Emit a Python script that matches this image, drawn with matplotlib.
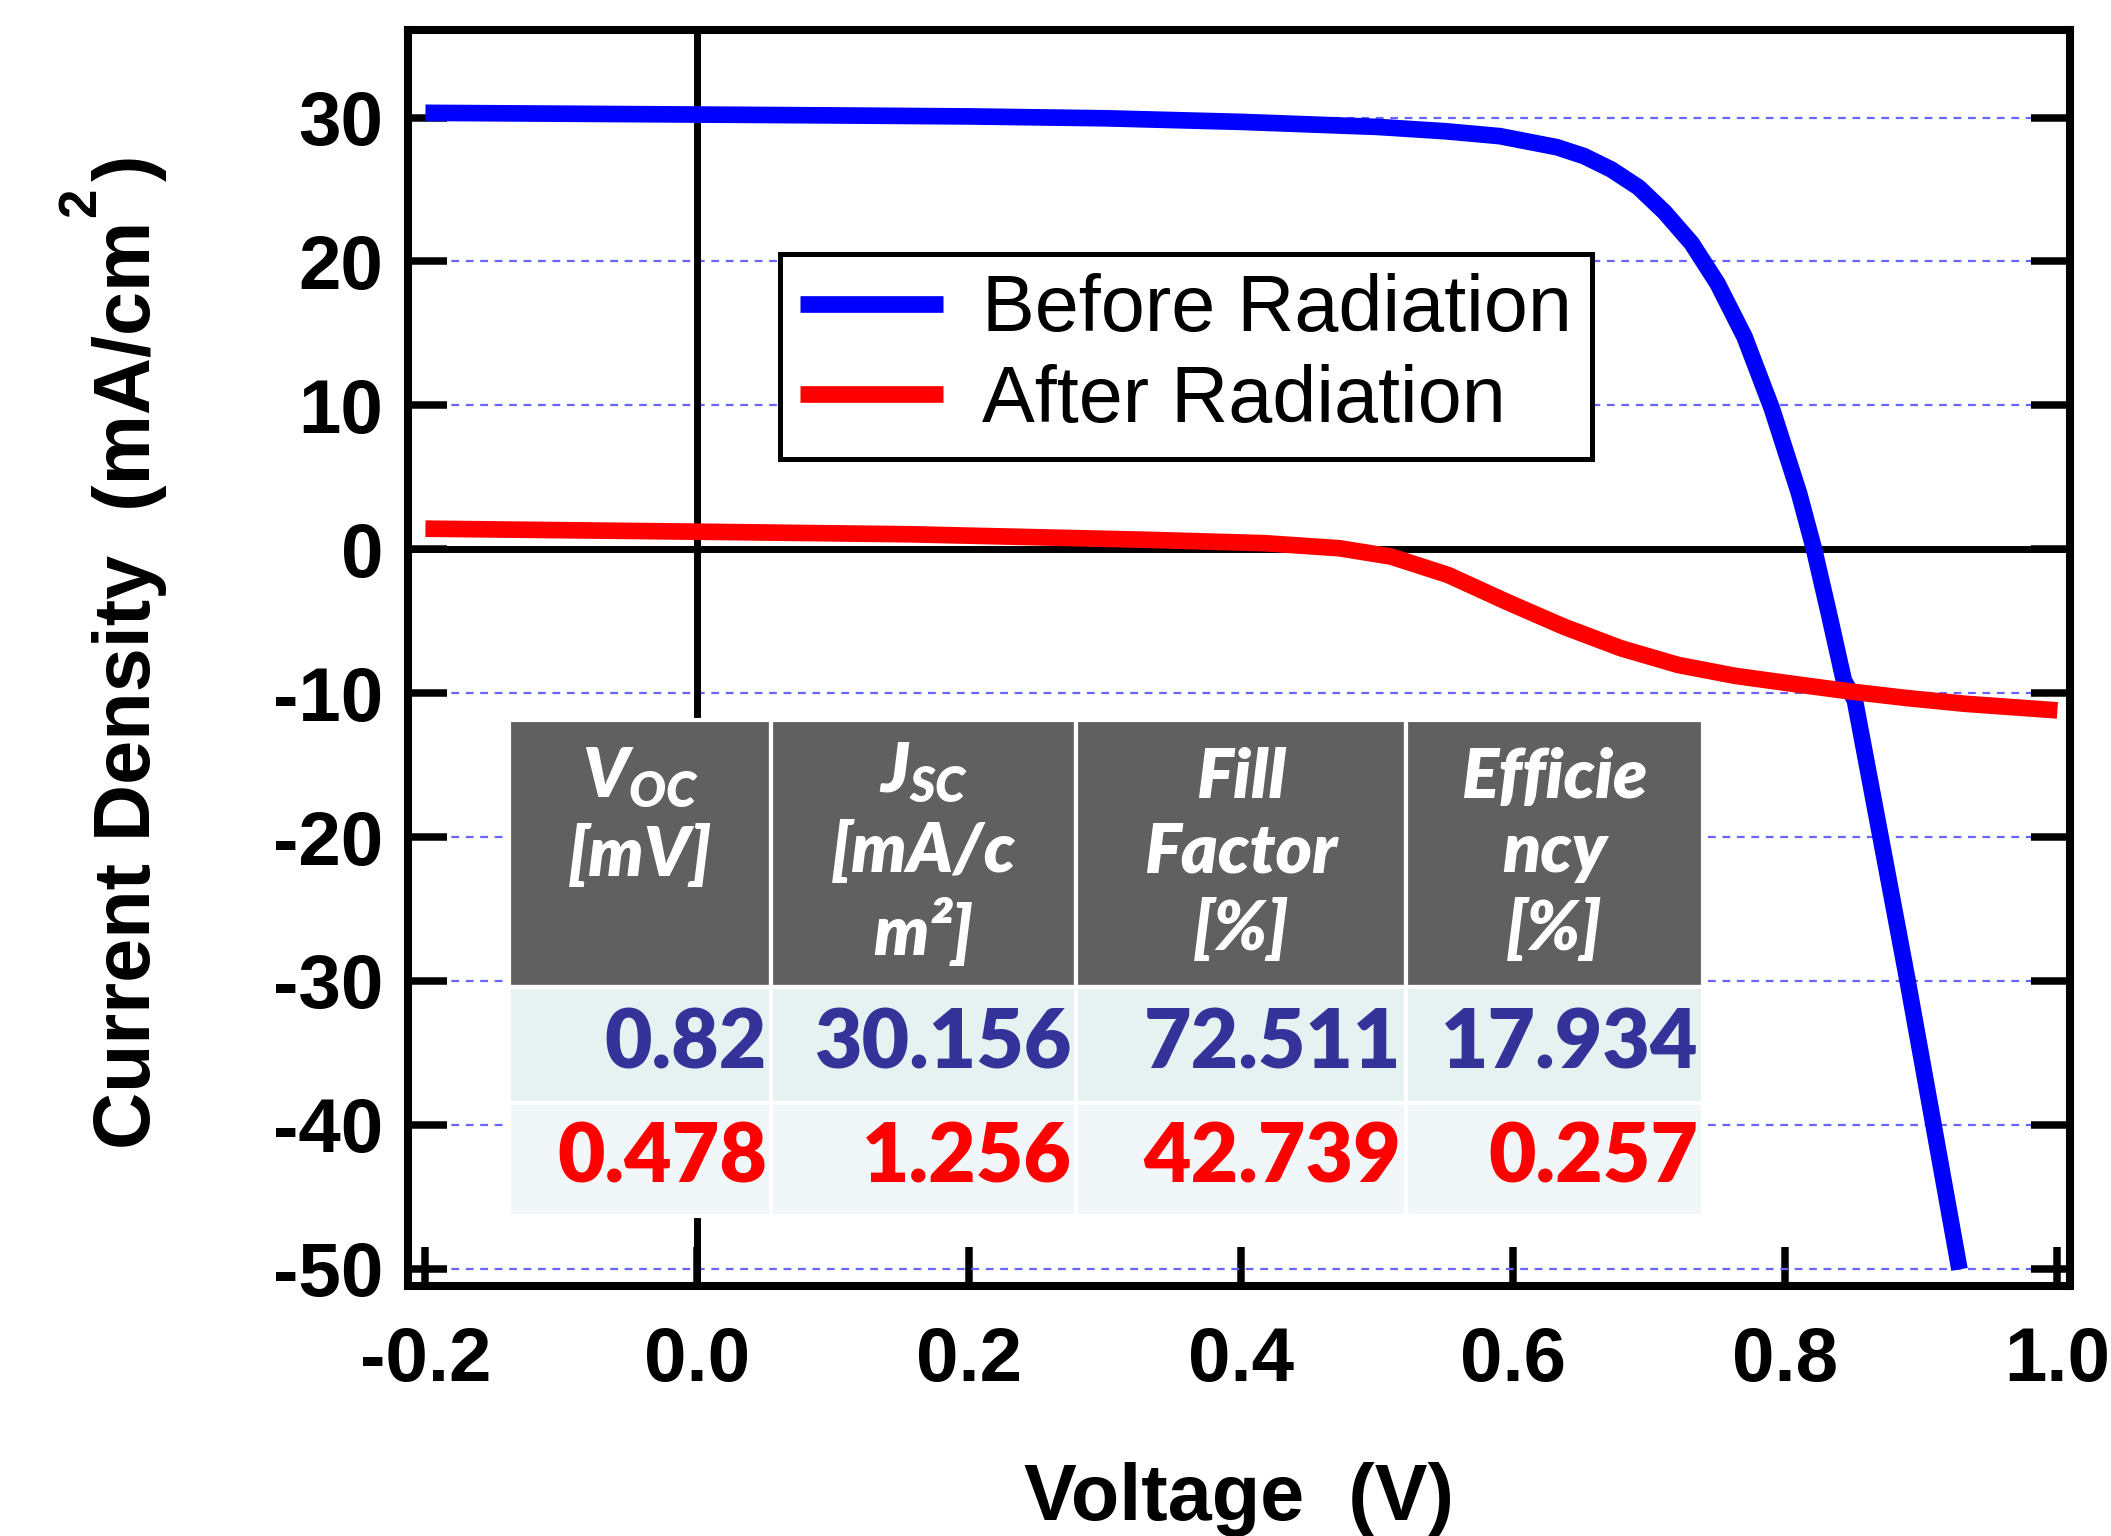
import numpy as np
import matplotlib.pyplot as plt
from matplotlib.font_manager import FontProperties

plt.rcParams['axes.unicode_minus'] = False
plt.rcParams['mathtext.fontset'] = 'custom'
plt.rcParams['mathtext.rm'] = 'Liberation Sans:bold'
plt.rcParams['mathtext.bf'] = 'Liberation Sans:bold'
plt.rcParams['mathtext.it'] = 'Lato:heavy:italic'

# J-V curve, before radiation
v_before = [-0.2, 0.0, 0.1, 0.2, 0.3, 0.4, 0.5, 0.55, 0.59, 0.632, 0.652, 0.672, 0.692,
            0.711, 0.731, 0.750, 0.770, 0.790, 0.810, 0.821, 0.832, 0.843, 0.851, 0.870,
            0.890, 0.909, 0.928]
j_before = [30.33, 30.21, 30.15, 30.08, 29.95, 29.7, 29.35, 29.05, 28.71, 27.94, 27.32, 26.39, 25.15,
            23.44, 21.27, 18.48, 14.75, 9.79, 3.90, 0.02, -4.48, -9.13, -10.47, -20.0,
            -30.07, -40.05, -50.05]

# J-V curve, after radiation
v_after = [-0.2, 0.0, 0.156, 0.333, 0.417, 0.472, 0.510, 0.552, 0.595, 0.637, 0.679, 0.721,
           0.763, 0.806, 0.848, 0.890, 0.932, 1.0]
j_after = [1.43, 1.22, 1.04, 0.65, 0.42, 0.07, -0.51, -1.79, -3.65, -5.38, -6.88, -8.04,
           -8.80, -9.36, -9.89, -10.35, -10.74, -11.2]

# table
col_labels = ['$V_{OC}$\n[mV]\n ', '$J_{SC}$\n[mA/c\nm\u00b2]', 'Fill\nFactor\n[%]', 'Efficie\nncy\n[%]']
before_vals = ['0.82', '30.156', '72.511', '17.934']
after_vals = ['0.478', '1.256', '42.739', '0.257']

x_ticks = [-0.2, 0.0, 0.2, 0.4, 0.6, 0.8, 1.0]
y_ticks = [-50, -40, -30, -20, -10, 0, 10, 20, 30]

W, H = 2111, 1536
fig = plt.figure(figsize=(W / 200, H / 200), dpi=200)
ax = fig.add_axes([0.1933, 0.1628, 0.7873, 0.8177])

ax.plot(v_before, j_before, color='#0000ff', lw=6, solid_capstyle='butt', zorder=3, label='Before Radiation')
ax.plot(v_after, j_after, color='#ff0000', lw=6, solid_capstyle='butt', zorder=3, label='After Radiation')
ax.axhline(0, color='black', lw=2.5, zorder=2)
ax.axvline(0, color='black', lw=2.5, zorder=2)

ax.set_xlim(-0.2128, 1.0093)
ax.set_ylim(-51.2, 36.09)
ax.set_xticks(x_ticks)
ax.set_xticklabels([f'{v:.1f}' for v in x_ticks])
ax.set_yticks(y_ticks)
ax.set_yticklabels([str(v) for v in y_ticks])
ax.yaxis.grid(True, color='#6666ff', lw=0.8, ls=(0, (3.5, 3)), zorder=1)
ax.set_axisbelow(True)

ax.tick_params(axis='y', direction='in', length=14, width=2.7, left=True, right=True, pad=9)
ax.tick_params(axis='x', direction='in', length=14, width=2.7, top=False, pad=14.5)
tick_font = FontProperties(family='Liberation Sans', weight='bold', size=27.5)
for lbl in ax.get_xticklabels() + ax.get_yticklabels():
    lbl.set_fontproperties(tick_font)
for sp in ax.spines.values():
    sp.set_linewidth(2.9)

label_font = FontProperties(family='Liberation Sans', weight='bold', size=28.5)
sup_font = FontProperties(family='Liberation Sans', weight='bold', size=19)
fig.text(0.5871, 0.0104, 'Voltage  (V)', ha='center', va='baseline', fontproperties=label_font)

# y label built from pieces so the superscript sits high like the original
r = fig.canvas.get_renderer()
head = 'Current Density  (mA/cm'
w_head = r.get_text_width_height_descent(head, label_font, ismath=False)[0]
w_sup = r.get_text_width_height_descent('2', sup_font, ismath=False)[0]
lab_x = 150 / W
y0 = 1 - 1149 / H
kw = dict(rotation=90, rotation_mode='anchor', ha='left', va='baseline')
fig.text(lab_x, y0, head, fontproperties=label_font, **kw)
fig.text(lab_x - 55 / W, y0 + (w_head + 4) / H, '2', fontproperties=sup_font, **kw)
fig.text(lab_x, y0 + (w_head + 4 + w_sup + 6) / H, ')', fontproperties=label_font, **kw)

leg = ax.legend(loc='upper left', bbox_to_anchor=(0.224, 0.822), borderaxespad=0,
                prop=FontProperties(family='Liberation Sans', size=28.5), handlelength=1.8,
                handletextpad=0.5, borderpad=0.25, labelspacing=0.2, frameon=True,
                fancybox=False, edgecolor='black', framealpha=1)
leg.get_frame().set_linewidth(1.8)

widths = np.array([262, 305, 330, 297], dtype=float)
tbl = ax.table(cellText=[before_vals, after_vals], colLabels=col_labels,
               colWidths=list(widths / widths.sum()), cellLoc='right', colLoc='center',
               bbox=[0.0608, 0.0557, 0.7184, 0.3949])
tbl.auto_set_font_size(False)
tbl.set_zorder(6)
row_h = [264, 114, 112]
row_bg = ['#606060', '#e6f1f2', '#f1f6f9']
row_fg = ['white', '#333399', '#ff0000']
head_font = FontProperties(family='Lato', weight='heavy', style='italic', size=25)
val_font = FontProperties(family='Lato', weight='heavy', size=29.5)
for (row, col), cell in tbl.get_celld().items():
    cell.set_height(row_h[row])
    cell.set_facecolor(row_bg[row])
    cell.set_edgecolor('white')
    cell.set_linewidth(1.5)
    txt = cell.get_text()
    txt.set_color(row_fg[row])
    if row == 0:
        txt.set_fontproperties(head_font)
        txt.set_linespacing(1.25)
    else:
        txt.set_fontproperties(val_font)
        cell.PAD = 0.015

fig.savefig('out.png', dpi=200)
